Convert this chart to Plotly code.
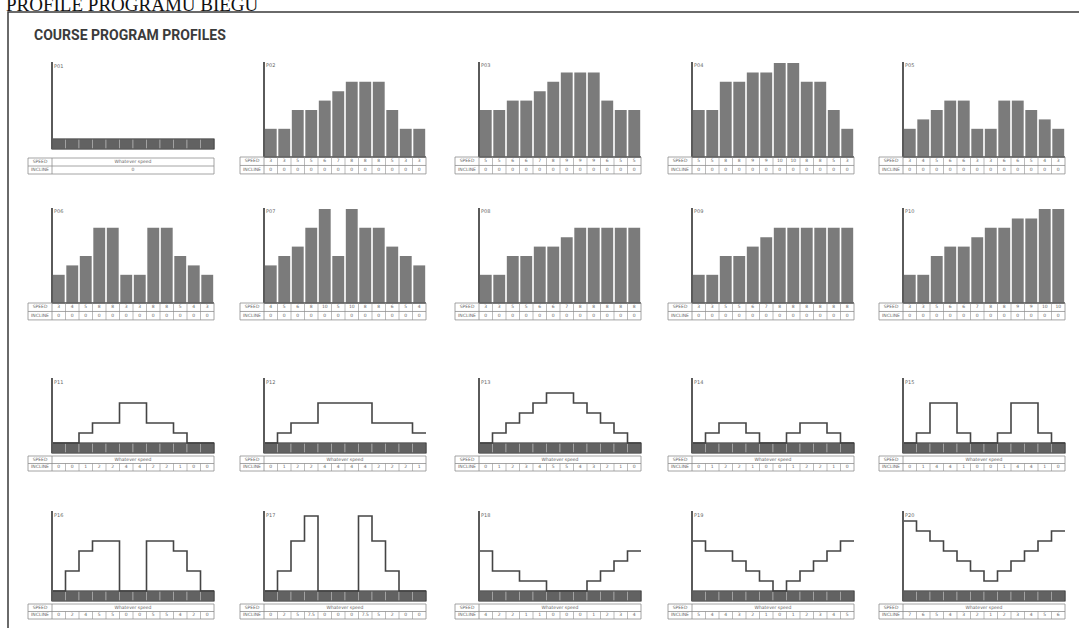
import plotly.graph_objects as go

W, H = 1079, 628

# ---------------- data ----------------
header_text = "PROFILE PROGRAMU BIEGU"
title_text = "COURSE PROGRAM PROFILES"
program_names = ["P01", "P02", "P03", "P04", "P05", "P06", "P07", "P08", "P09", "P10",
                 "P11", "P12", "P13", "P14", "P15", "P16", "P17", "P18", "P19", "P20"]
row_labels = ["SPEED", "INCLINE"]
free_speed_text = "Whatever speed"
p01_incline_text = "0"

# speed profiles (bar programs)
p02 = [3, 3, 5, 5, 6, 7, 8, 8, 8, 5, 3, 3]
p03 = [5, 5, 6, 6, 7, 8, 9, 9, 9, 6, 5, 5]
p04 = [5, 5, 8, 8, 9, 9, 10, 10, 8, 8, 5, 3]
p05 = [3, 4, 5, 6, 6, 3, 3, 6, 6, 5, 4, 3]
p06 = [3, 4, 5, 8, 8, 3, 3, 8, 8, 5, 4, 3]
p07 = [4, 5, 6, 8, 10, 5, 10, 8, 8, 6, 5, 4]
p08 = [3, 3, 5, 5, 6, 6, 7, 8, 8, 8, 8, 8]
p09 = [3, 3, 5, 5, 6, 7, 8, 8, 8, 8, 8, 8]
p10 = [3, 3, 5, 6, 6, 7, 8, 8, 9, 9, 10, 10]
bar_incline = [0, 0, 0, 0, 0, 0, 0, 0, 0, 0, 0, 0]

# incline profiles (line programs)
p11 = [0, 0, 1, 2, 2, 4, 4, 2, 2, 1, 0, 0]
p12 = [0, 1, 2, 2, 4, 4, 4, 4, 2, 2, 2, 1]
p13 = [0, 1, 2, 3, 4, 5, 5, 4, 3, 2, 1, 0]
p14 = [0, 1, 2, 2, 1, 0, 0, 1, 2, 2, 1, 0]
p15 = [0, 1, 4, 4, 1, 0, 0, 1, 4, 4, 1, 0]
p16 = [0, 2, 4, 5, 5, 0, 0, 5, 5, 4, 2, 0]
p17 = [0, 2, 5, 7.5, 0, 0, 0, 7.5, 5, 2, 0, 0]
p18 = [4, 2, 2, 1, 1, 0, 0, 0, 1, 2, 3, 4]
p19 = [5, 4, 4, 3, 2, 1, 0, 1, 2, 3, 4, 5]
p20 = [7, 6, 5, 4, 3, 2, 1, 2, 3, 4, 5, 6]

bar_programs = [p02, p03, p04, p05, p06, p07, p08, p09, p10]
line_programs = [p11, p12, p13, p14, p15, p16, p17, p18, p19, p20]

# ---------------- layout geometry (pixels) ----------------
col_axis_px = [52, 264, 479, 692, 903]
seg_px = 13.5
label_px = 24
row_cfg = [
    dict(base=157, unit=9.4, top=62, table=[0, -0.9, -1.8]),
    dict(base=303, unit=9.4, top=208, table=[0, -0.9, -1.8]),
    dict(base=443, unit=10.0, top=378, table=[-1.3, -2.05, -2.8]),
    dict(base=591, unit=10.0, top=511, table=[-1.3, -2.05, -2.8]),
]
p01_cfg = dict(base=139, unit=10.0, top=62, table=[-1.9, -2.7, -3.5])

BAR_C = "#7b7b7b"
BAND_C = "#626262"
LINE_C = "#454545"
AXIS_C = "#5a5a5a"
GRID_C = "#8e8e8e"
TXT_C = "#666666"
NSEG = 12

fig = go.Figure()
shapes = []
layout_axes = {}

centers = [k + 0.5 for k in range(NSEG)]
edges = list(range(NSEG + 1))

for i in range(20):
    r, c = divmod(i, 5)
    idx = i + 1
    xa = "x" if idx == 1 else f"x{idx}"
    ya = "y" if idx == 1 else f"y{idx}"
    cfg = p01_cfg if i == 0 else row_cfg[r]
    if i == 0:
        kind = "flat"
    elif i < 10:
        kind = "bar"
    else:
        kind = "line"

    ax_px = col_axis_px[c]
    base, unit, top = cfg["base"], cfg["unit"], cfg["top"]
    t0, t1, t2 = cfg["table"]
    ptop = top - 4
    pbot = base - t2 * unit + 1
    x_lo = -label_px / seg_px
    dom_x = [(ax_px - label_px - 1) / W, (ax_px + NSEG * seg_px + 1) / W]
    rng_x = [x_lo - 1 / seg_px, NSEG + 1 / seg_px]
    dom_y = [1 - pbot / H, 1 - ptop / H]
    rng_y = [(base - pbot) / unit, (base - ptop) / unit]
    y_top = (base - top) / unit

    kx = "xaxis" if idx == 1 else f"xaxis{idx}"
    ky = "yaxis" if idx == 1 else f"yaxis{idx}"
    layout_axes[kx] = dict(domain=dom_x, range=rng_x, visible=False, fixedrange=True, anchor=ya)
    layout_axes[ky] = dict(domain=dom_y, range=rng_y, visible=False, fixedrange=True, anchor=xa)

    # marks
    if kind == "bar":
        vals = bar_programs[i - 1]
        fig.add_trace(go.Bar(x=centers, y=vals, width=0.88, marker=dict(color=BAR_C, line=dict(width=0)),
                             xaxis=xa, yaxis=ya, hoverinfo="skip", showlegend=False))
        y_axis_bottom = 0
    else:
        fig.add_trace(go.Bar(x=centers, y=[1] * NSEG, base=-1, width=1,
                             marker=dict(color=BAND_C, line=dict(color="#a8a8a8", width=0.8)),
                             xaxis=xa, yaxis=ya, hoverinfo="skip", showlegend=False))
        shapes.append(dict(type="rect", xref=xa, yref=ya, x0=0, x1=NSEG, y0=-1, y1=0,
                           line=dict(color="#3c3c3c", width=1.2)))
        y_axis_bottom = -1
        if kind == "line":
            vals = line_programs[i - 10]
            fig.add_trace(go.Scatter(x=edges, y=vals + [vals[-1]], mode="lines",
                                     line=dict(color=LINE_C, width=1.6, shape="hv"),
                                     xaxis=xa, yaxis=ya, hoverinfo="skip", showlegend=False,
                                     cliponaxis=False))

    # axis line
    shapes.append(dict(type="line", xref=xa, yref=ya, x0=0, x1=0, y0=y_axis_bottom, y1=y_top,
                       line=dict(color=AXIS_C, width=2)))
    if kind == "bar":
        shapes.append(dict(type="line", xref=xa, yref=ya, x0=0, x1=NSEG, y0=0, y1=0,
                           line=dict(color="#3c3c3c", width=1.4)))

    # program label
    fig.add_trace(go.Scatter(x=[0.15], y=[y_top - 0.45], mode="text", text=[program_names[i]],
                             textposition="middle right", textfont=dict(size=5, color=TXT_C,
                                                                          family="DejaVu Sans"),
                             xaxis=xa, yaxis=ya, hoverinfo="skip", showlegend=False,
                             cliponaxis=False))

    # table frame
    shapes.append(dict(type="rect", xref=xa, yref=ya, x0=x_lo, x1=NSEG, y0=t2, y1=t0,
                       line=dict(color=GRID_C, width=0.8)))
    shapes.append(dict(type="line", xref=xa, yref=ya, x0=x_lo, x1=NSEG, y0=t1, y1=t1,
                       line=dict(color=GRID_C, width=0.8)))
    shapes.append(dict(type="line", xref=xa, yref=ya, x0=0, x1=0, y0=t2, y1=t0,
                       line=dict(color=GRID_C, width=0.8)))
    for k in range(1, NSEG):
        if kind == "bar":
            shapes.append(dict(type="line", xref=xa, yref=ya, x0=k, x1=k, y0=t2, y1=t0,
                               line=dict(color=GRID_C, width=0.6)))
        elif kind == "line":
            shapes.append(dict(type="line", xref=xa, yref=ya, x0=k, x1=k, y0=t2, y1=t1,
                               line=dict(color=GRID_C, width=0.6)))

    # table text
    m1, m2 = (t0 + t1) / 2, (t1 + t2) / 2
    tf = dict(size=4.5, color=TXT_C, family="DejaVu Sans")
    fig.add_trace(go.Scatter(x=[x_lo / 2, x_lo / 2], y=[m1, m2], mode="text", text=row_labels,
                             textfont=tf, xaxis=xa, yaxis=ya, hoverinfo="skip",
                             showlegend=False, cliponaxis=False))
    if kind == "bar":
        fig.add_trace(go.Scatter(x=centers + centers, y=[m1] * NSEG + [m2] * NSEG, mode="text",
                                 text=[str(v) for v in vals] + [str(v) for v in bar_incline],
                                 textfont=tf, xaxis=xa, yaxis=ya, hoverinfo="skip",
                                 showlegend=False, cliponaxis=False))
    elif kind == "line":
        fig.add_trace(go.Scatter(x=[NSEG / 2] + centers, y=[m1] + [m2] * NSEG, mode="text",
                                 text=[free_speed_text] + [str(v) for v in vals],
                                 textfont=tf, xaxis=xa, yaxis=ya, hoverinfo="skip",
                                 showlegend=False, cliponaxis=False))
    else:
        fig.add_trace(go.Scatter(x=[NSEG / 2, NSEG / 2], y=[m1, m2], mode="text",
                                 text=[free_speed_text, p01_incline_text],
                                 textfont=tf, xaxis=xa, yaxis=ya, hoverinfo="skip",
                                 showlegend=False, cliponaxis=False))

# page frame
shapes.append(dict(type="rect", xref="paper", yref="paper", x0=8 / W, x1=1.05, y0=-0.05,
                   y1=1 - 12 / H, line=dict(color="#3a3a3a", width=1.5), layer="below"))

annotations = [
    dict(text=header_text, xref="paper", yref="paper", x=4 / W, y=1 - 17 / H, xanchor="left",
         yanchor="bottom", showarrow=False,
         font=dict(family="Liberation Serif, Times New Roman, serif", size=19, color="#111111")),
    dict(text=f"<b>{title_text}</b>", xref="paper", yref="paper", x=32 / W, y=1 - 35 / H,
         xanchor="left", yanchor="middle", showarrow=False,
         font=dict(family="Roboto, sans-serif", size=14, color="#3b3b3b")),
]

fig.update_layout(width=W, height=H, margin=dict(l=0, r=0, t=0, b=0),
                  paper_bgcolor="white", plot_bgcolor="rgba(0,0,0,0)",
                  shapes=shapes, annotations=annotations, showlegend=False,
                  barmode="overlay", **layout_axes)

fig.write_html("out.html", config={"displayModeBar": False},
               post_script="document.body.style.margin='0px';")
